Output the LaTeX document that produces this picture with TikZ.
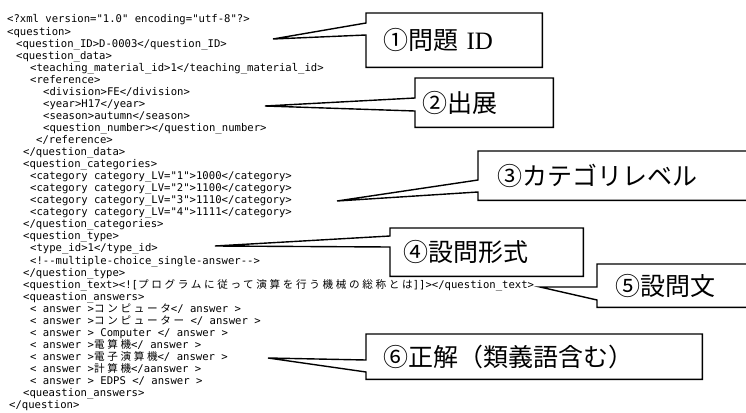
\documentclass[tikz,border=0pt]{standalone}
\usepackage{fontspec}
\setmainfont{Liberation Serif}
\setmonofont{DejaVu Sans Mono}
\newfontfamily\jpmono[LetterSpace=25]{Noto Sans CJK JP}
\newfontfamily\jplabel{Noto Sans CJK JP}
\usetikzlibrary{calc}
\newcommand{\jp}[1]{{\jpmono #1}}

\begin{document}
\begin{tikzpicture}[
    x=1pt,
    y=-1pt,
    xml/.style={anchor=base west,inner sep=0pt,font=\ttfamily\fontsize{10.6}{12}\selectfont},
    callbox/.style={anchor=north west,inner ysep=0pt,align=left,font=\jplabel\fontsize{25}{28}\selectfont},
    callout/.style={draw=black,line width=1.4pt,line join=miter}
  ]
  \useasboundingbox (0,0) rectangle (746,412);
  % xml listing
  \node[xml] (l1) at (7,23) {<?xml version="1.0" encoding="utf-8"?>};
  \node[xml] (l2) at (7,35.05) {<question>};
  \node[xml] (l3) at (16,47.1) {<question\_ID>D-0003</question\_ID>};
  \node[xml] (l4) at (16,59.15) {<question\_data>};
  \node[xml] (l5) at (30,71.2) {<teaching\_material\_id>1</teaching\_material\_id>};
  \node[xml] (l6) at (30,83.25) {<reference>};
  \node[xml] (l7) at (43,95.3) {<division>FE</division>};
  \node[xml] (l8) at (43,107.35) {<year>H17</year>};
  \node[xml] (l9) at (43,119.4) {<season>autumn</season>};
  \node[xml] (l10) at (43,131.45) {<question\_number></question\_number>};
  \node[xml] (l11) at (36,143.5) {</reference>};
  \node[xml] (l12) at (23,155.55) {</question\_data>};
  \node[xml] (l13) at (23,167.6) {<question\_categories>};
  \node[xml] (l14) at (30,179.65) {<category category\_LV="1">1000</category>};
  \node[xml] (l15) at (30,191.7) {<category category\_LV="2">1100</category>};
  \node[xml] (l16) at (30,203.75) {<category category\_LV="3">1110</category>};
  \node[xml] (l17) at (30,215.8) {<category category\_LV="4">1111</category>};
  \node[xml] (l18) at (23,227.85) {</question\_categories>};
  \node[xml] (l19) at (23,239.9) {<question\_type>};
  \node[xml] (l20) at (30,251.95) {<type\_id>1</type\_id>};
  \node[xml] (l21) at (30,264) {<!--multiple-choice\_single-answer-->};
  \node[xml] (l22) at (23,276.05) {</question\_type>};
  \node[xml] (l23) at (23,288.1) {<question\_text><![\jp{プログラムに従って演算を行う機械の総称とは}]]></question\_text>};
  \node[xml] (l24) at (23,300.15) {<queastion\_answers>};
  \node[xml] (l25) at (30,312.2) {< answer >\jp{コンピュータ}</ answer >};
  \node[xml] (l26) at (30,324.25) {< answer >\jp{コンピューター} </ answer >};
  \node[xml] (l27) at (30,336.3) {< answer > Computer </ answer >};
  \node[xml] (l28) at (30,348.35) {< answer >\jp{電算機}</ answer >};
  \node[xml] (l29) at (30,360.4) {< answer >\jp{電子演算機}</ answer >};
  \node[xml] (l30) at (30,372.45) {< answer >\jp{計算機}</aanswer >};
  \node[xml] (l31) at (30,384.5) {< answer > EDPS </ answer >};
  \node[xml] (l32) at (23,396.55) {<queastion\_answers>};
  \node[xml] (l33) at (9,408.6) {</question>};
  % callouts
  \node[callbox,inner xsep=17pt,text width=142pt,minimum height=54pt] (idbox) at (366,13) {①問題 {\rmfamily ID}};
  \node[callbox,inner xsep=7pt,text width=124pt,minimum height=49pt] (srcbox) at (415,78) {②出展};
  \node[callbox,inner xsep=19pt,text width=230pt,minimum height=49pt] (catbox) at (478,151) {③カテゴリレベル};
  \node[callbox,inner xsep=13pt,text width=167pt,minimum height=48pt] (typebox) at (390,228) {④設問形式};
  \node[callbox,inner xsep=18pt,text width=113pt,minimum height=43pt] (textbox) at (597,264) {⑤設問文};
  \node[callbox,inner xsep=17pt,text width=302pt,minimum height=45pt] (ansbox) at (366,334) {⑥正解（類義語含む）};
  \coordinate (idtip) at (273,39);
  \coordinate (srctip) at (265,106);
  \coordinate (cattip) at (337,201);
  \coordinate (typetip) at (215,246);
  \coordinate (texttip) at (540,287);
  \coordinate (anstip) at (268,358);
  \draw[callout] (idbox.north west) -- ($(idbox.north west)+(0,10)$) -- (idtip) -- ($(idbox.north west)+(0,22)$)
    -- (idbox.south west) -- (idbox.south east) -- (idbox.north east) -- cycle;
  \draw[callout] (srcbox.north west) -- ($(srcbox.north west)+(0,20)$) -- (srctip) -- ($(srcbox.north west)+(0,33)$)
    -- (srcbox.south west) -- (srcbox.south east) -- (srcbox.north east) -- cycle;
  \draw[callout] (catbox.north east) -- (catbox.north west) -- ($(catbox.north west)+(0,29)$) -- (cattip)
    -- ($(catbox.north west)+(0,41)$) -- (catbox.south west) -- (catbox.south east);
  \draw[callout] (typebox.north west) -- ($(typebox.north west)+(0,8)$) -- (typetip) -- ($(typebox.north west)+(0,19)$)
    -- (typebox.south west) -- (typebox.south east) -- (typebox.north east) -- cycle;
  \draw[callout] (textbox.north east) -- (textbox.north west) -- ($(textbox.north west)+(0,23)$) -- (texttip)
    -- ($(textbox.north west)+(0,36)$) -- (textbox.south west) -- (textbox.south east);
  \draw[callout] (ansbox.north west) -- ($(ansbox.north west)+(0,26)$) -- (anstip) -- ($(ansbox.north west)+(0,38)$)
    -- (ansbox.south west) -- (ansbox.south east) -- (ansbox.north east) -- cycle;
\end{tikzpicture}
\end{document}
